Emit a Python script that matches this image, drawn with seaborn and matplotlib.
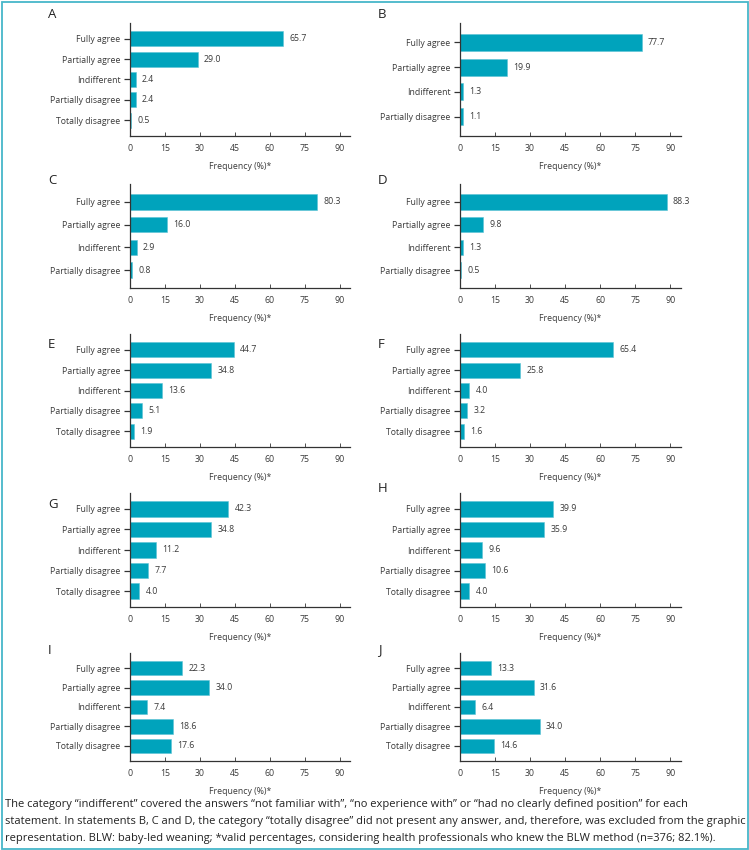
import matplotlib
matplotlib.use("Agg")
import matplotlib.pyplot as plt
from matplotlib.patches import Rectangle
import seaborn as sns
import pandas as pd

sns.set_theme(style="white")
plt.rcParams['font.family'] = ['Open Sans', 'DejaVu Sans']

# categories
cats5 = ["Fully agree", "Partially agree", "Indifferent", "Partially disagree", "Totally disagree"]
cats4 = cats5[:4]

# values (%) per statement
vals_a = [65.7, 29.0, 2.4, 2.4, 0.5]
vals_b = [77.7, 19.9, 1.3, 1.1]
vals_c = [80.3, 16.0, 2.9, 0.8]
vals_d = [88.3, 9.8, 1.3, 0.5]
vals_e = [44.7, 34.8, 13.6, 5.1, 1.9]
vals_f = [65.4, 25.8, 4.0, 3.2, 1.6]
vals_g = [42.3, 34.8, 11.2, 7.7, 4.0]
vals_h = [39.9, 35.9, 9.6, 10.6, 4.0]
vals_i = [22.3, 34.0, 7.4, 18.6, 17.6]
vals_j = [13.3, 31.6, 6.4, 34.0, 14.6]

letters = ["A", "B", "C", "D", "E", "F", "G", "H", "I", "J"]
panels = [vals_a, vals_b, vals_c, vals_d, vals_e, vals_f, vals_g, vals_h, vals_i, vals_j]
xticks = [0, 15, 30, 45, 60, 75, 90]

caption = [
    "The category \u201cindifferent\u201d covered the answers \u201cnot familiar with\u201d, \u201cno experience with\u201d or \u201chad no clearly defined position\u201d for each",
    "statement. In statements B, C and D, the category \u201ctotally disagree\u201d did not present any answer, and, therefore, was excluded from the graphic",
    "representation. BLW: baby-led weaning; *valid percentages, considering health professionals who knew the BLW method (n=376; 82.1%).",
]

BAR = "#00a3bc"
TXT = "#3a3a3a"
W, H = 749, 850

fig = plt.figure(figsize=(W / 100, H / 100), dpi=100)

# pixel layout: (top, bottom) of each row, left edge / width of each column
rows_px = [(23, 136), (184, 288), (334, 447), (493, 607), (653, 761)]
cols_px = [(130, 220), (460, 221)]
letter_y = [[15, 15], [181, 181], [345, 345], [505, 488], [650, 650]]
letter_x = [48, 378]

for k, vals in enumerate(panels):
    r, c = divmod(k, 2)
    top, bot = rows_px[r]
    left, width = cols_px[c]
    ax = fig.add_axes([left / W, 1 - bot / H, width / W, (bot - top) / H])

    n = len(vals)
    cats = cats5[:n]
    df = pd.DataFrame({"cat": cats, "val": vals})
    sns.barplot(data=df, x="val", y="cat", order=cats, color=BAR, saturation=1,
                width=0.74 if n == 5 else 0.68, edgecolor="#5cc3d5", linewidth=0.4, ax=ax)

    for i, v in enumerate(vals):
        ax.annotate(f"{v:.1f}", (v, i), xytext=(4.5, 0), textcoords="offset points",
                    va="center", ha="left", fontsize=6.3, color=TXT)

    ax.set_xlim(0, 94.5)
    ax.set_ylim(n - 1 + 0.78, -0.78)
    ax.set_xticks(xticks)
    ax.set_ylabel("")
    ax.set_xlabel("Frequency (%)*", fontsize=6.3, color=TXT, labelpad=6)
    for s in ["top", "right"]:
        ax.spines[s].set_visible(False)
    for s in ["left", "bottom"]:
        ax.spines[s].set_color("#333333")
        ax.spines[s].set_linewidth(0.9)
    ax.tick_params(axis="y", direction="out", length=4, width=0.9, color="#333333",
                   labelsize=6.3, labelcolor=TXT, pad=3, left=True)
    ax.tick_params(axis="x", direction="in", length=3, width=0.6, color="#333333",
                   labelsize=6.3, labelcolor=TXT, pad=6, bottom=True)

    fig.text(letter_x[c] / W, 1 - letter_y[r][c] / H, letters[k], fontsize=9.5,
             color="#222222", va="center", ha="left")

for i, line in enumerate(caption):
    fig.text(5 / W, 1 - (805 + 16.5 * i) / H, line, fontsize=8, color="#222222",
             va="center", ha="left")

fig.add_artist(Rectangle((1.5 / W, 1.5 / H), 1 - 3 / W, 1 - 3 / H, transform=fig.transFigure,
                         fill=False, edgecolor="#47b6c9", linewidth=1.3))

fig.savefig("out.png", dpi=100)
